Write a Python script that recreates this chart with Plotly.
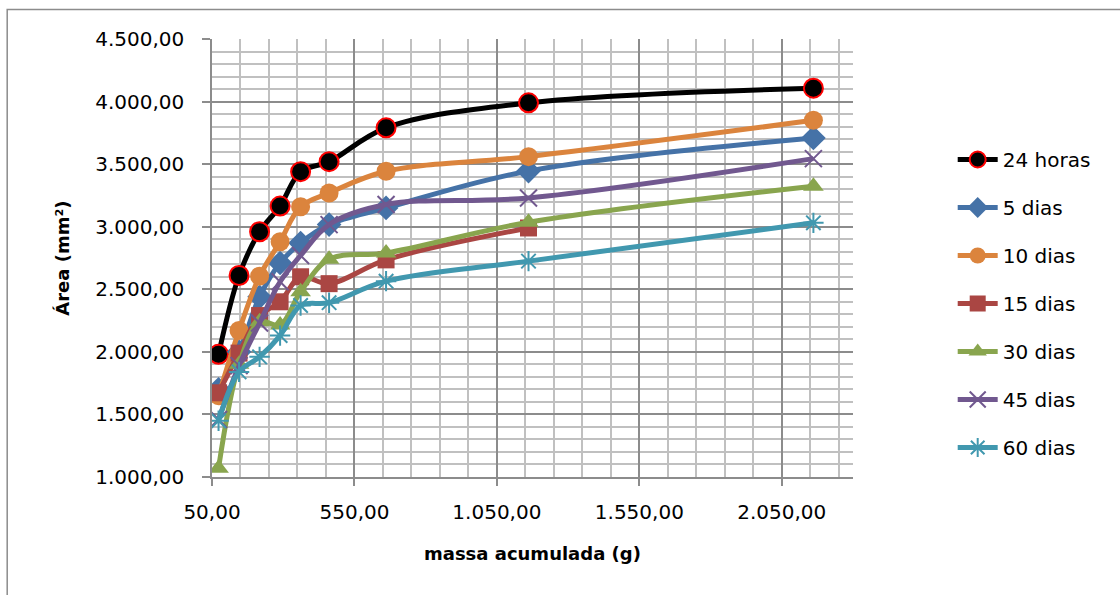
import plotly.graph_objects as go

# ---- data ----
massa = [73, 145, 217, 289, 361, 461, 661, 1161, 2161]

h24 = [1980, 2610, 2960, 3165, 3440, 3520, 3790, 3990, 4107]
d5 = [1700, 2000, 2440, 2710, 2870, 3017, 3150, 3445, 3709]
d10 = [1650, 2170, 2605, 2880, 3160, 3270, 3443, 3560, 3850]
d15 = [1673, 1990, 2290, 2400, 2600, 2545, 2735, 2990]
d30 = [1070, 1900, 2240, 2215, 2480, 2740, 2790, 3035, 3323]
d45 = [1460, 1890, 2230, 2560, 2770, 3017, 3177, 3230, 3544]
d60 = [1450, 1840, 1960, 2130, 2370, 2393, 2565, 2725, 3031]

series_names = ["24 horas", "5 dias", "10 dias", "15 dias", "30 dias", "45 dias", "60 dias"]
series_vals = [h24, d5, d10, d15, d30, d45, d60]

x_ticks = [50, 550, 1050, 1550, 2050]
y_ticks = [1000, 1500, 2000, 2500, 3000, 3500, 4000, 4500]

# ---- styles ----
styles = [
    dict(color="#000000", symbol="circle", size=19, mline=dict(color="#FF0000", width=2)),
    dict(color="#4572A7", symbol="diamond", size=19, mline=dict(width=0)),
    dict(color="#DB843D", symbol="circle", size=19, mline=dict(width=0)),
    dict(color="#AA4643", symbol="square", size=17, mline=dict(width=0)),
    dict(color="#89A54E", symbol="triangle-up", size=18, mline=dict(width=0)),
    dict(color="#71588F", symbol="x-thin-open", size=17, mline=dict(color="#71588F", width=2)),
    dict(color="#4198AF", symbol="asterisk-open", size=17, mline=dict(color="#4198AF", width=2)),
]

FONT = "DejaVu Sans"

fig = go.Figure()
for i, (name, vals, st) in enumerate(zip(series_names, series_vals, styles)):
    fig.add_trace(go.Scatter(
        x=massa[:len(vals)], y=vals, name=name, mode="lines+markers",
        line=dict(color=st["color"], width=5, shape="spline", smoothing=1.0),
        marker=dict(symbol=st["symbol"], size=st["size"], color=st["color"], line=st["mline"]),
        legendgroup=f"g{i}",
    ))

W, H = 1120, 595
L, R, T, B = 212.3, 853.3, 39, 477
fig.update_layout(
    width=W, height=H,
    margin=dict(l=L, r=W - R, t=T, b=H - B, pad=0),
    paper_bgcolor="white", plot_bgcolor="white",
    separators=",.",
    font=dict(family=FONT, size=20, color="#000000"),
    showlegend=True,
    legend=dict(
        x=(953 - L) / (R - L), xanchor="left",
        y=1 - (303.5 - T) / (B - T), yanchor="middle",
        font=dict(family=FONT, size=20, color="#000000"),
        tracegroupgap=19, bgcolor="rgba(0,0,0,0)", itemwidth=40,
    ),
    xaxis=dict(
        range=[50, 2300], tickmode="array", tickvals=x_ticks, tickformat=",.2f",
        showgrid=True, gridcolor="#8c8c8c", gridwidth=1.5,
        minor=dict(dtick=100, tick0=50, showgrid=True, gridcolor="#c0c0c0", gridwidth=1.5),
        ticks="outside", ticklen=7, tickcolor="#8c8c8c", tickwidth=1.5,
        showline=True, linecolor="#8c8c8c", linewidth=1.5,
        zeroline=False, ticklabelstandoff=9,
        tickfont=dict(family=FONT, size=20, color="#000000"),
    ),
    yaxis=dict(
        range=[1000, 4500], tickmode="array", tickvals=y_ticks, tickformat=",.2f",
        showgrid=True, gridcolor="#8c8c8c", gridwidth=1.5,
        minor=dict(dtick=100, tick0=1000, showgrid=True, gridcolor="#c0c0c0", gridwidth=1.5),
        ticks="outside", ticklen=8, tickcolor="#8c8c8c", tickwidth=1.5,
        showline=True, linecolor="#8c8c8c", linewidth=1.5,
        zeroline=False, ticklabelstandoff=14,
        tickfont=dict(family=FONT, size=20, color="#000000"),
    ),
    annotations=[
        dict(text="<b>massa acumulada (g)</b>", xref="paper", yref="paper",
             x=0.5, y=1 - (553 - T) / (B - T), xanchor="center", yanchor="middle",
             showarrow=False, font=dict(family=FONT, size=18, color="#000000")),
        dict(text="<b>Área (mm²)</b>", xref="paper", yref="paper",
             x=(62 - L) / (R - L), y=0.5, xanchor="center", yanchor="middle",
             textangle=-90, showarrow=False, font=dict(family=FONT, size=18, color="#000000")),
    ],
    shapes=[
        dict(type="rect", xref="paper", yref="paper",
             x0=(7.5 - L) / (R - L), x1=3, y0=-3, y1=1 + (T - 9.5) / (B - T),
             line=dict(color="#8c8c8c", width=1.5), layer="below"),
    ],
)

fig.write_html("out.html")
